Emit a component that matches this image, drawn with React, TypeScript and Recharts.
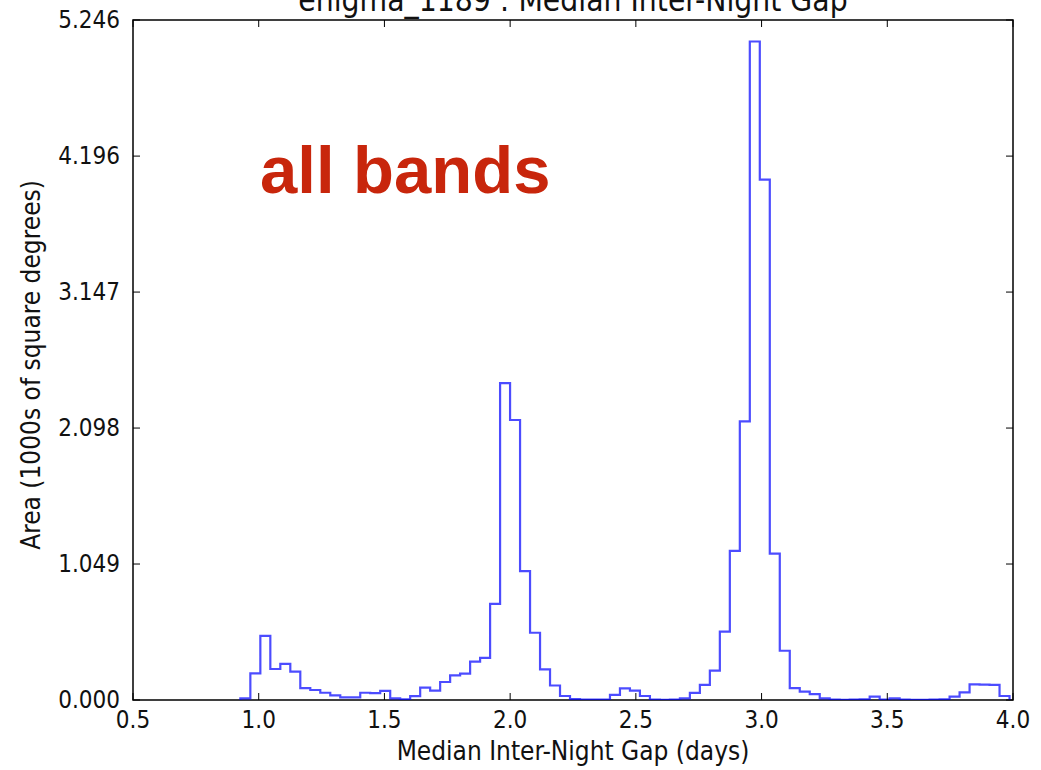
import { ComposedChart, Line, XAxis, YAxis, ReferenceArea } from "recharts";

// histogram bins (days) and heights (1000s of sq. deg)
const binStart = 0.927;
const binWidth = 0.03973;
const areas = [
  0.013, 0.205, 0.495, 0.239, 0.278, 0.219, 0.092, 0.077, 0.056, 0.036,
  0.021, 0.021, 0.056, 0.053, 0.071, 0.012, 0.005, 0.03, 0.095, 0.072,
  0.139, 0.19, 0.204, 0.296, 0.325, 0.741, 2.445, 2.16, 0.995, 0.519,
  0.237, 0.112, 0.031, 0.007, 0.003, 0.003, 0.004, 0.039, 0.09, 0.072,
  0.031, 0.003, 0.002, 0.004, 0.013, 0.055, 0.116, 0.226, 0.527, 1.15,
  2.15, 5.08, 4.015, 1.13, 0.38, 0.092, 0.064, 0.046, 0.013, 0.003,
  0.002, 0.003, 0.005, 0.026, 0.003, 0.013, 0.003, 0.002, 0.002, 0.003,
  0.005, 0.026, 0.059, 0.121, 0.118, 0.116, 0.031,
];

const xTicks = [0.5, 1.0, 1.5, 2.0, 2.5, 3.0, 3.5, 4.0];
const yTicks = [0, 1.049, 2.098, 3.147, 4.196, 5.246];

const W = 1041;
const H = 770;
const PLOT = { left: 133, right: 1013, top: 20, bottom: 700 };
const FONT = "'DejaVu Sans Condensed', 'DejaVu Sans', sans-serif";

// outline of a step histogram: up at the first edge, down at the last
const points = [
  { x: binStart, y: 0 },
  ...areas.map((a, i) => ({ x: binStart + i * binWidth, y: a })),
  { x: binStart + areas.length * binWidth, y: 0 },
];

function XTick(props: any) {
  const { x, payload } = props;
  return (
    <g>
      <line x1={x} x2={x} y1={PLOT.bottom} y2={PLOT.bottom - 7} stroke="#000" strokeWidth={1} />
      <line x1={x} x2={x} y1={PLOT.top} y2={PLOT.top + 7} stroke="#000" strokeWidth={1} />
      <text x={x} y={728} textAnchor="middle" fontFamily={FONT} fontSize={24} fill="#111">
        {Number(payload.value).toFixed(1)}
      </text>
    </g>
  );
}

function YTick(props: any) {
  const { y, payload } = props;
  return (
    <g>
      <line x1={PLOT.left} x2={PLOT.left + 7} y1={y} y2={y} stroke="#000" strokeWidth={1} />
      <line x1={PLOT.right - 7} x2={PLOT.right} y1={y} y2={y} stroke="#000" strokeWidth={1} />
      <text x={120} y={y + 8} textAnchor="end" fontFamily={FONT} fontSize={24} fill="#111">
        {Number(payload.value).toFixed(3)}
      </text>
    </g>
  );
}

export default function App() {
  return (
    <div style={{ position: "absolute", left: 0, top: 0, width: W, height: H, background: "#fff", overflow: "hidden" }}>
      <ComposedChart
        width={W}
        height={H}
        data={points}
        margin={{ top: PLOT.top, right: W - PLOT.right, bottom: 0, left: 0 }}
      >
        <XAxis
          type="number"
          dataKey="x"
          domain={[0.5, 4.0]}
          ticks={xTicks}
          height={H - PLOT.bottom}
          tick={<XTick />}
          tickLine={false}
          axisLine={false}
          allowDataOverflow
        />
        <YAxis
          type="number"
          domain={[0, 5.246]}
          ticks={yTicks}
          width={PLOT.left}
          tick={<YTick />}
          tickLine={false}
          axisLine={false}
          allowDataOverflow
        />
        <Line
          type="stepAfter"
          dataKey="y"
          stroke="#0000ff"
          strokeOpacity={0.7}
          strokeWidth={2.2}
          dot={false}
          isAnimationActive={false}
        />
        <ReferenceArea x1={0.5} x2={4.0} y1={0} y2={5.246} fill="none" stroke="#000" strokeWidth={1.5} />
      </ComposedChart>
      <svg width={W} height={H} style={{ position: "absolute", left: 0, top: 0, pointerEvents: "none" }}>
        <text x={(PLOT.left + PLOT.right) / 2} y={11} textAnchor="middle" fontFamily={FONT} fontSize={31.5} fill="#111">
          enigma_1189 : Median Inter-Night Gap
        </text>
        <text x={(PLOT.left + PLOT.right) / 2} y={760} textAnchor="middle" fontFamily={FONT} fontSize={26} fill="#111">
          Median Inter-Night Gap (days)
        </text>
        <text
          x={40}
          y={365}
          transform="rotate(-90 40 365)"
          textAnchor="middle"
          fontFamily={FONT}
          fontSize={26}
          fill="#111"
        >
          Area (1000s of square degrees)
        </text>
        <text x={260} y={193} fontFamily="'Liberation Sans', Arial, sans-serif" fontWeight="bold" fontSize={67} fill="#c8260c">
          all bands
        </text>
      </svg>
    </div>
  );
}
